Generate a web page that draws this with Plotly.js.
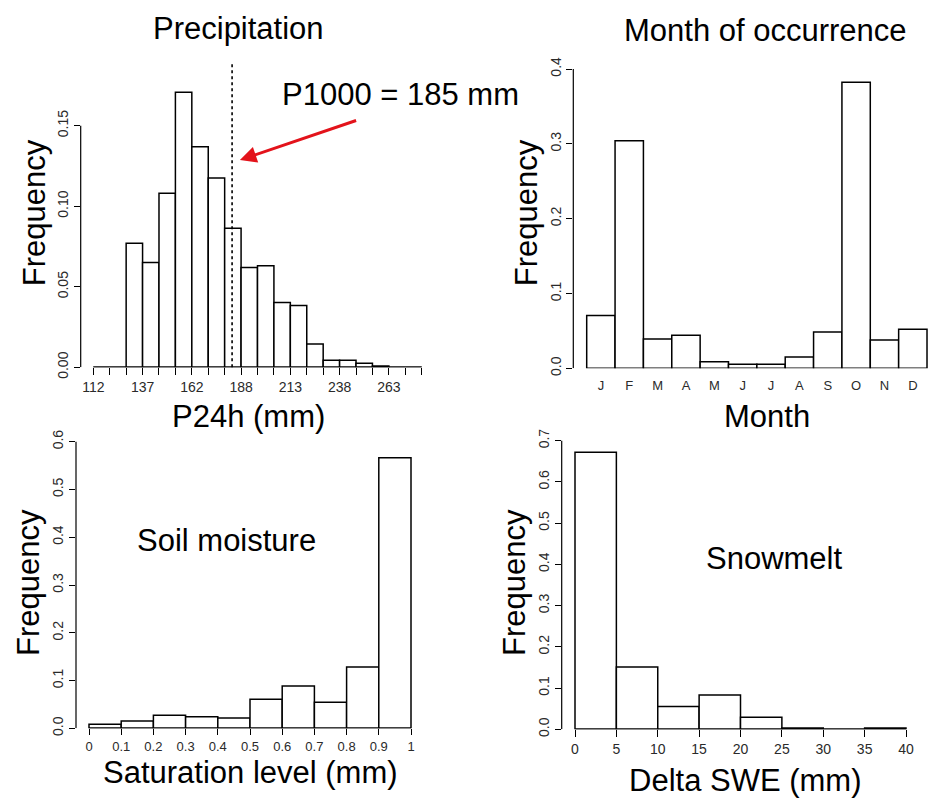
<!DOCTYPE html>
<html>
<head>
<meta charset="utf-8">
<script src="https://cdn.plot.ly/plotly-3.0.1.min.js"></script>
<style>html,body{margin:0;padding:0;background:#fff;}#chart{width:928px;height:798px;}</style>
</head>
<body>
<div id="chart"></div>
<script>
// ---------- DATA ----------
const precipBinStart = 112;
const precipBinWidth = 8.4;
const precipFreq = [0, 0, 0.077, 0.065, 0.108, 0.1707, 0.137, 0.1175, 0.0863, 0.062, 0.0631, 0.0403, 0.0383, 0.0145, 0.0043, 0.0043, 0.0025, 0.0008, 0, 0];
const precipTickLabels = ['112', '137', '162', '188', '213', '238', '263'];
const p1000Value = 183;
const p1000Label = 'P1000 = 185 mm';

const months = ['J', 'F', 'M', 'A', 'M', 'J', 'J', 'A', 'S', 'O', 'N', 'D'];
const monthFreq = [0.0704, 0.3042, 0.0392, 0.0441, 0.0089, 0.0053, 0.0053, 0.0151, 0.0486, 0.3822, 0.0379, 0.0521];

const soilBinStart = 0;
const soilBinWidth = 0.1;
const soilFreq = [0.0084, 0.0153, 0.0272, 0.0244, 0.0216, 0.0607, 0.0886, 0.0544, 0.1284, 0.5665];
const soilTickLabels = ['0', '0.1', '0.2', '0.3', '0.4', '0.5', '0.6', '0.7', '0.8', '0.9', '1'];

const sweBinStart = 0;
const sweBinWidth = 5;
const sweFreq = [0.6717, 0.1512, 0.055, 0.0833, 0.0291, 0.0032, 0, 0.003];
const sweTickLabels = ['0', '5', '10', '15', '20', '25', '30', '35', '40'];

const yTicks1 = [0, 0.05, 0.10, 0.15];
const yTicks2 = [0, 0.1, 0.2, 0.3, 0.4];
const yTicks3 = [0, 0.1, 0.2, 0.3, 0.4, 0.5, 0.6];
const yTicks4 = [0, 0.1, 0.2, 0.3, 0.4, 0.5, 0.6, 0.7];

// ---------- BUILD ----------
const W = 928, H = 798;
const px = v => v / W;
const py = v => 1 - v / H;
const FONT = 'Liberation Sans, Arial, Helvetica, sans-serif';
const BIG = 31;

function centers(start, width, arr) { return arr.map((_, i) => start + width * (i + 0.5)); }
function edges(start, width, n) { const e = []; for (let i = 0; i <= n; i++) e.push(+(start + width * i).toFixed(6)); return e; }

const barStyle = { color: 'white', line: { color: 'black', width: 1.5 } };

const precipEdges = edges(precipBinStart, precipBinWidth, precipFreq.length);
const precipTickText = precipEdges.map((_, i) => (i % 3 === 0 && precipTickLabels[i / 3]) ? precipTickLabels[i / 3] : '');

const soilEdges = edges(soilBinStart, soilBinWidth, soilFreq.length);
const sweEdges = edges(sweBinStart, sweBinWidth, sweFreq.length);

const traces = [
  { type: 'bar', x: centers(precipBinStart, precipBinWidth, precipFreq), y: precipFreq, width: precipBinWidth,
    marker: barStyle, xaxis: 'x', yaxis: 'y', hoverinfo: 'skip' },
  { type: 'bar', x: months.map((_, i) => i), y: monthFreq, width: 1,
    marker: barStyle, xaxis: 'x2', yaxis: 'y2', hoverinfo: 'skip' },
  { type: 'bar', x: centers(soilBinStart, soilBinWidth, soilFreq), y: soilFreq, width: soilBinWidth,
    marker: barStyle, xaxis: 'x3', yaxis: 'y3', hoverinfo: 'skip' },
  { type: 'bar', x: centers(sweBinStart, sweBinWidth, sweFreq), y: sweFreq, width: sweBinWidth,
    marker: barStyle, xaxis: 'x4', yaxis: 'y4', hoverinfo: 'skip' }
];

const tickFont = { family: FONT, size: 14, color: '#2a2a2a' };
function xax(domain, range, tickvals, ticktext, anchor, extra) {
  return Object.assign({ domain, range, tickmode: 'array', tickvals, ticktext, anchor,
    showgrid: false, zeroline: false, showline: false, ticks: 'outside', ticklen: 7, tickwidth: 1,
    tickcolor: 'black', tickfont: tickFont, tickangle: 0, fixedrange: true }, extra || {});
}
function yax(domain, range, tickvals, fmt, anchor) {
  return { domain, range, tickmode: 'array', tickvals, ticktext: tickvals.map(v => v.toFixed(fmt)), anchor,
    showgrid: false, zeroline: false, showline: false, ticks: 'outside', ticklen: 6, tickwidth: 1,
    tickcolor: 'black', tickfont: tickFont, tickangle: -90, fixedrange: true };
}

function txt(text, x, y, extra) {
  return Object.assign({ text, xref: 'paper', yref: 'paper', x: px(x), y: py(y), xanchor: 'center', yanchor: 'middle',
    showarrow: false, borderpad: 0, font: { size: BIG, color: 'black' } }, extra || {});
}

const layout = {
  width: W, height: H,
  margin: { l: 0, r: 0, t: 0, b: 0 },
  paper_bgcolor: 'white', plot_bgcolor: 'rgba(0,0,0,0)',
  showlegend: false,
  font: { family: FONT, color: 'black' },
  xaxis: xax([px(80.7), px(425)], [105.55, 281.69], precipEdges, precipTickText, 'y'),
  yaxis: yax([py(367.3), py(63)], [0, 0.18893], yTicks1, 2, 'x'),
  xaxis2: xax([px(573.3), px(928)], [-0.9725, 11.535], months.map((_, i) => i), months, 'y2',
    { tickcolor: 'rgba(0,0,0,0)', ticklen: 5, tickfont: { family: FONT, size: 13, color: '#2a2a2a' } }),
  yaxis2: yax([py(368.3), py(60)], [0, 0.41203], yTicks2, 1, 'x2'),
  xaxis3: xax([px(76), px(415)], [-0.04037, 1.01242], soilEdges, soilTickLabels, 'y3',
    { ticklen: 6, tickfont: { family: FONT, size: 13, color: '#2a2a2a' } }),
  yaxis3: yax([py(728.3), py(438)], [0, 0.60774], yTicks3, 1, 'x3'),
  xaxis4: xax([px(561.7), px(910)], [-1.607, 40.483], sweEdges, sweTickLabels, 'y4'),
  yaxis4: yax([py(729.3), py(437)], [0, 0.70897], yTicks4, 1, 'x4'),
  shapes: [
    // y axis lines (span first to last tick, as in R)
    { type: 'line', xref: 'x domain', x0: 0, x1: 0, yref: 'y', y0: 0, y1: yTicks1[yTicks1.length - 1], line: { color: 'black', width: 1.2 } },
    { type: 'line', xref: 'x2 domain', x0: 0, x1: 0, yref: 'y2', y0: 0, y1: yTicks2[yTicks2.length - 1], line: { color: 'black', width: 1.2 } },
    { type: 'line', xref: 'x3 domain', x0: 0, x1: 0, yref: 'y3', y0: 0, y1: yTicks3[yTicks3.length - 1], line: { color: 'black', width: 1.2 } },
    { type: 'line', xref: 'x4 domain', x0: 0, x1: 0, yref: 'y4', y0: 0, y1: yTicks4[yTicks4.length - 1], line: { color: 'black', width: 1.2 } },
    // x axis lines
    { type: 'line', xref: 'x', x0: precipEdges[0], x1: precipEdges[precipEdges.length - 1], yref: 'y', y0: 0, y1: 0, line: { color: 'black', width: 1.5 } },
    { type: 'line', xref: 'x3', x0: soilEdges[0], x1: soilEdges[soilEdges.length - 1], yref: 'y3', y0: 0, y1: 0, line: { color: 'black', width: 1.5 } },
    { type: 'line', xref: 'x4', x0: sweEdges[0], x1: sweEdges[sweEdges.length - 1], yref: 'y4', y0: 0, y1: 0, line: { color: 'black', width: 1.5 } },
    // P1000 dashed line
    { type: 'line', xref: 'x', x0: p1000Value, x1: p1000Value, yref: 'y domain', y0: 0, y1: 1,
      line: { color: 'black', width: 1.6, dash: '3px,3px' } }
  ],
  annotations: [
    txt('Precipitation', 238.3, 28),
    txt('Month of occurrence', 765.8, 30.8),
    txt(p1000Label, 400, 94.2),
    { text: '', xref: 'x', yref: 'y', x: 187.0, y: 0.1287, ax: 117.7, ay: -40, axref: 'pixel', ayref: 'pixel',
      showarrow: true, arrowcolor: '#e3131b', arrowwidth: 3, arrowhead: 2, arrowsize: 1.1, standoff: 0 },
    txt('P24h (mm)', 248.3, 416.7),
    txt('Month', 767, 416.7),
    txt('Saturation level (mm)', 250, 772),
    txt('Delta SWE (mm)', 745, 780),
    txt('Soil moisture', 226.3, 540.3),
    txt('Snowmelt', 773.8, 558.8),
    txt('Frequency', 34, 213.3, { textangle: -90 }),
    txt('Frequency', 526, 213.3, { textangle: -90 }),
    txt('Frequency', 28, 583, { textangle: -90 }),
    txt('Frequency', 514, 583, { textangle: -90 })
  ]
};

Plotly.newPlot('chart', traces, layout, { staticPlot: true, displayModeBar: false });
</script>
</body>
</html>
